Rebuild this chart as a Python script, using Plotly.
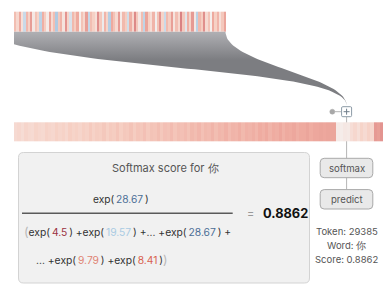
import numpy as np
import plotly.graph_objects as go

# ---------------- data ----------------
top_logits = [
    0.72, 0.60, 0.80, 0.55, 0.30, 0.75, 0.64, 0.85, 0.50, 0.70,
    0.62, 0.25, 0.78, 0.66, 0.48, 0.82, 0.58, 0.72, 0.20, 0.68,
    0.76, 0.52, 0.88, 0.62, 0.35, 0.74, 0.66, 0.80, 0.46, 0.70,
    0.60, 0.84, 0.28, 0.72, 0.64, 0.55, 0.90, 0.68, 0.42, 0.76,
    0.62, 0.22, 0.80, 0.70, 0.58, 0.86, 0.48, 0.74, 0.66, 0.32,
    0.78, 0.60, 0.92, 0.68, 0.50, 0.72, 0.26, 0.82, 0.64, 0.56,
    0.76, 0.44, 0.70, 0.88, 0.62, 0.30, 0.74, 0.66, 0.84, 0.52,
    0.72, 0.60, 0.95, 0.68, 0.38, 0.78, 0.62, 0.86, 0.50, 0.24,
    0.74, 0.66, 0.90, 0.58, 0.70, 0.45, 0.80, 0.64, 0.76, 0.55,
    0.68, 0.82]

sorted_logits = [
    0.58, 0.60, 0.57, 0.61, 0.59, 0.58, 0.62, 0.60, 0.59, 0.63,
    0.61, 0.60, 0.64, 0.61, 0.63, 0.60, 0.65, 0.62, 0.64, 0.61,
    0.65, 0.63, 0.67, 0.63, 0.66, 0.65, 0.68, 0.64, 0.67, 0.66,
    0.69, 0.65, 0.68, 0.67, 0.70, 0.66, 0.69, 0.68, 0.71, 0.67,
    0.70, 0.69, 0.72, 0.68, 0.71, 0.70, 0.73, 0.69, 0.72, 0.71,
    0.73, 0.70, 0.74, 0.72, 0.75, 0.71, 0.74, 0.73, 0.76, 0.72,
    0.75, 0.74, 0.77, 0.73, 0.76, 0.75, 0.78, 0.74, 0.77, 0.76,
    0.78, 0.75, 0.79, 0.77, 0.80, 0.76, 0.79, 0.78, 0.81, 0.77,
    0.80, 0.79, 0.81, 0.78, 0.80, 0.80, 0.82, 0.79, 0.81, 0.81,
    0.82, 0.81, 0.82, 0.82, 0.82,
    0.48, 0.47, 0.50, 0.49,
    0.56, 0.60, 0.55, 0.62, 0.58, 0.63, 0.60,
    0.86, 0.84, 0.88, 0.85, 0.87, 0.86]

target_word = "你"
target_token = 29385
target_logit = 28.67
score = 0.8862
sum_logits = [4.5, 19.57, 28.67]
tail_logits = [9.79, 8.41]
logit_colors = ["#9b3040", "#a9cbe3", "#4b6e96"]
tail_colors = ["#e08373", "#d9614f"]
buttons = ["softmax", "predict"]

# ---------------- styling ----------------
W, H = 383, 286
FONT = "Inter"
cscale = [[0.0, "#7fa6cc"], [0.25, "#bcd3e6"], [0.45, "#f5efed"],
          [0.65, "#f6cfc3"], [0.8, "#eeaa9f"], [1.0, "#d27479"]]

fig = go.Figure()

# top strip
tx0, tx1, ty0, ty1 = 14, 225.5, 11.7, 31.7
tdx = (tx1 - tx0) / len(top_logits)
fig.add_trace(go.Heatmap(z=[top_logits], x0=tx0 + tdx / 2, dx=tdx,
                         y0=(ty0 + ty1) / 2, dy=ty1 - ty0,
                         colorscale=cscale, zmin=0, zmax=1,
                         showscale=False, hoverinfo="skip"))

# bottom (sorted) strip
bx0, by0, by1 = 14, 122.3, 141.7
bdx = 3.39
fig.add_trace(go.Heatmap(z=[sorted_logits], x0=bx0 + bdx / 2, dx=bdx,
                         y0=(by0 + by1) / 2, dy=by1 - by0,
                         colorscale=cscale, zmin=0, zmax=1,
                         showscale=False, hoverinfo="skip"))

# funnel shape (cubic beziers)
def bez(p0, p1, p2, p3, n=60):
    t = np.linspace(0, 1, n)[:, None]
    p = ((1 - t) ** 3) * np.array(p0) + 3 * ((1 - t) ** 2) * t * np.array(p1) \
        + 3 * (1 - t) * t ** 2 * np.array(p2) + t ** 3 * np.array(p3)
    return p[:, 0], p[:, 1]

tip = (346.6, 105.5)
ux, uy = bez((tx1, ty1), (tx1, 65), (tip[0], 75), tip)
lx, ly = bez(tip, (tip[0], 70), (120, 72), (tx0, 44.3))
px = np.concatenate([[tx0], ux, lx, [tx0]])
py = np.concatenate([[ty1], uy, ly, [ty1]])
fig.add_trace(go.Scatter(x=px, y=py, mode="lines", fill="toself",
                         line=dict(width=0, color="rgba(0,0,0,0)"),
                         fillgradient=dict(type="vertical",
                                           colorscale=[[0, "#b0b0b4"], [1, "#7c7d81"]],
                                           start=ty1, stop=60),
                         hoverinfo="skip", showlegend=False))

shapes = []

def rrect(x0, y0, x1, y1, r):
    return (f"M{x0+r},{y0} L{x1-r},{y0} Q{x1},{y0} {x1},{y0+r} "
            f"L{x1},{y1-r} Q{x1},{y1} {x1-r},{y1} L{x0+r},{y1} "
            f"Q{x0},{y1} {x0},{y1-r} L{x0},{y0+r} Q{x0},{y0} {x0+r},{y0} Z")

cx = 346.6
# connector vertical line
shapes.append(dict(type="line", x0=cx, x1=cx, y0=116.7, y1=189.5,
                   line=dict(color="#b5b5b5", width=1), layer="below"))
# circle + connector
shapes.append(dict(type="line", x0=334.5, x1=341.5, y0=111.7, y1=111.7,
                   line=dict(color="#b5b5b5", width=1)))
shapes.append(dict(type="circle", x0=329.8, x1=334.8, y0=109.2, y1=114.2,
                   fillcolor="#a8a8a8", line=dict(color="#a8a8a8", width=0.5)))
# plus box
shapes.append(dict(type="path", path=rrect(341.6, 106.7, 351.6, 116.7, 1.2),
                   fillcolor="white", line=dict(color="#8c9aa6", width=1)))
shapes.append(dict(type="line", x0=343.6, x1=349.6, y0=111.7, y1=111.7,
                   line=dict(color="#6f7d89", width=1)))
shapes.append(dict(type="line", x0=cx, x1=cx, y0=108.7, y1=114.7,
                   line=dict(color="#6f7d89", width=1)))

# main box
shapes.append(dict(type="path", path=rrect(18.5, 152.5, 309.5, 283, 5),
                   fillcolor="#f1f1f1", line=dict(color="#d3d3d3", width=1)))
# fraction bar
shapes.append(dict(type="line", x0=22, x1=232.7, y0=213.3, y1=213.3,
                   line=dict(color="#5a5a5a", width=1.5)))

# buttons
btn_y = [168, 199.3]
for yc in btn_y:
    shapes.append(dict(type="path", path=rrect(320.2, yc - 9.7, 372.8, yc + 9.7, 4),
                       fillcolor="#e9e9e9", line=dict(color="#a9a9a9", width=1)))

ann = []
def txt(x, y, s, size=10, color="#444", anchor="center", bold=False):
    if bold:
        s = f"<b>{s}</b>"
    ann.append(dict(x=x, y=y, xref="x", yref="y", text=s, showarrow=False,
                    xanchor=anchor, yanchor="middle",
                    font=dict(family=FONT, size=size, color=color)))

def num(v, c):
    return f"<span style='color:{c}'>{v}</span>"

ts = "\u2009"
paren = "<span style='color:#b8b8b8;font-size:12.5px'>{}</span>"

txt(165.7, 168, f"Softmax score for {target_word}", size=11, color="#555")
txt(121, 198.5, f"exp({ts}{num(target_logit, '#4b6e96')}{ts})", size=10.2, color="#333")
txt(250.7, 213, "=", size=11, color="#999")
txt(285.5, 213, f"{score:.4f}", size=12.8, color="#111", bold=True)

parts = [f"exp({ts}{num(v, c)}{ts})" for v, c in zip(sum_logits, logit_colors)]
line2 = paren.format("(") + parts[0] + " +" + parts[1] + " +... +" + parts[2] + " +"
txt(21.5, 231.7, line2, size=10.3, color="#333", anchor="left")
tparts = [f"exp({ts}{num(v, c)}{ts})" for v, c in zip(tail_logits, tail_colors)]
line3 = "... +" + tparts[0] + " +" + tparts[1] + paren.format(")")
txt(34, 259.3, line3, size=10.3, color="#333", anchor="left")

for yc, label in zip(btn_y, buttons):
    txt(cx, yc, label, size=9.6, color="#555")

txt(cx, 231.7, f"Token: {target_token}", size=9.5, color="#555")
txt(cx, 245.8, f"Word: {target_word}", size=9.5, color="#555")
txt(cx, 259.6, f"Score: {score:.4f}", size=9.5, color="#555")

fig.update_layout(width=W, height=H, margin=dict(l=0, r=0, t=0, b=0),
                  paper_bgcolor="white", plot_bgcolor="white",
                  xaxis=dict(range=[0, W], visible=False, fixedrange=True),
                  yaxis=dict(range=[H, 0], visible=False, fixedrange=True),
                  shapes=shapes, annotations=ann, showlegend=False)

fig.write_html("out.html", config={"displayModeBar": False},
               post_script="document.body.style.margin='0';document.body.style.overflow='hidden';")
